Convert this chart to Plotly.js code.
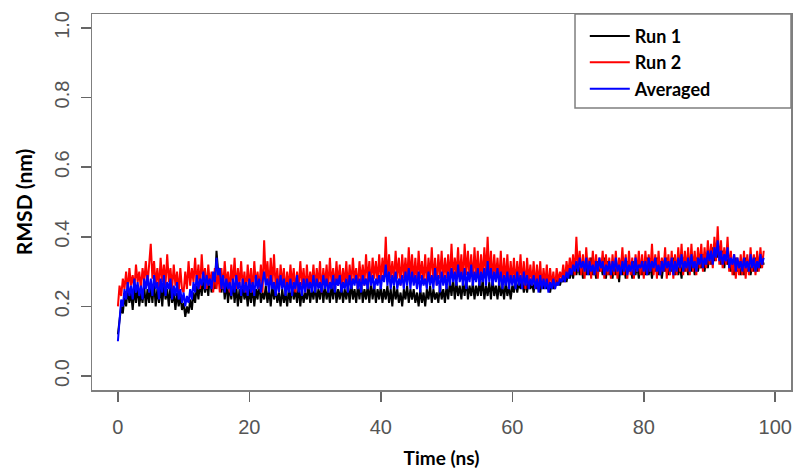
<!DOCTYPE html>
<html>
<head>
<meta charset="utf-8">
<script src="https://cdn.plot.ly/plotly-3.0.1.min.js"></script>
<style>html,body{margin:0;padding:0;background:#fff;}#chart{width:795px;height:470px;}</style>
</head>
<body>
<div id="chart"></div>
<script>
// Sampling step of the trajectories (ns)
const timeStep = 0.25;

// Run 1 (black) RMSD, nm
const run1 = [
0.12,0.16,0.20,0.18,0.23,0.20,0.25,0.21,0.24,0.19,0.25,0.21,0.26,0.20,0.24,0.21,0.26,0.20,0.25,0.21,
0.26,0.21,0.27,0.20,0.25,0.21,0.26,0.20,0.27,0.22,0.25,0.20,0.26,0.21,0.24,0.19,0.24,0.20,0.23,0.19,
0.21,0.17,0.20,0.18,0.22,0.19,0.24,0.21,0.26,0.22,0.27,0.23,0.28,0.24,0.27,0.23,0.29,0.24,0.28,0.25,
0.36,0.30,0.31,0.24,0.28,0.22,0.27,0.21,0.26,0.22,0.27,0.21,0.26,0.20,0.25,0.21,0.26,0.22,0.25,0.20,
0.25,0.21,0.26,0.20,0.25,0.22,0.27,0.21,0.24,0.22,0.26,0.21,0.25,0.20,0.26,0.22,0.25,0.21,0.24,0.20,
0.25,0.21,0.24,0.20,0.25,0.21,0.26,0.22,0.25,0.21,0.26,0.20,0.25,0.21,0.24,0.22,0.26,0.21,0.25,0.22,
0.26,0.21,0.25,0.22,0.27,0.21,0.26,0.22,0.25,0.21,0.26,0.22,0.27,0.21,0.25,0.22,0.26,0.21,0.25,0.22,
0.26,0.21,0.27,0.22,0.25,0.21,0.26,0.22,0.27,0.21,0.25,0.22,0.26,0.21,0.27,0.22,0.26,0.21,0.25,0.22,
0.26,0.21,0.25,0.22,0.26,0.21,0.25,0.20,0.26,0.22,0.25,0.21,0.24,0.20,0.25,0.22,0.26,0.21,0.25,0.22,
0.25,0.21,0.24,0.20,0.25,0.21,0.24,0.20,0.25,0.22,0.26,0.21,0.25,0.22,0.24,0.21,0.26,0.22,0.25,0.21,
0.26,0.22,0.27,0.23,0.28,0.22,0.27,0.23,0.26,0.22,0.27,0.23,0.28,0.22,0.26,0.23,0.27,0.22,0.26,0.23,
0.27,0.23,0.28,0.22,0.26,0.23,0.27,0.22,0.28,0.23,0.26,0.22,0.27,0.23,0.26,0.22,0.27,0.23,0.26,0.22,
0.26,0.24,0.28,0.24,0.27,0.25,0.28,0.24,0.27,0.24,0.28,0.25,0.27,0.24,0.28,0.25,0.27,0.24,0.28,0.25,
0.27,0.25,0.28,0.24,0.27,0.25,0.28,0.26,0.29,0.26,0.28,0.27,0.29,0.27,0.30,0.28,0.31,0.28,0.32,0.29,
0.32,0.29,0.33,0.28,0.32,0.29,0.33,0.29,0.34,0.29,0.32,0.28,0.33,0.30,0.32,0.29,0.34,0.28,0.33,0.29,
0.32,0.28,0.33,0.29,0.32,0.27,0.33,0.29,0.32,0.28,0.33,0.30,0.32,0.28,0.33,0.29,0.32,0.28,0.33,0.29,
0.33,0.29,0.34,0.29,0.32,0.28,0.33,0.30,0.34,0.29,0.33,0.28,0.32,0.30,0.34,0.29,0.33,0.30,0.34,0.29,
0.33,0.29,0.32,0.28,0.34,0.30,0.33,0.29,0.34,0.30,0.33,0.29,0.34,0.30,0.33,0.31,0.35,0.30,0.34,0.31,
0.36,0.32,0.37,0.33,0.38,0.34,0.37,0.32,0.36,0.31,0.35,0.32,0.34,0.30,0.33,0.29,0.34,0.30,0.33,0.29,
0.33,0.29,0.34,0.30,0.33,0.29,0.32,0.30,0.34,0.30,0.33,0.31,0.34,0.32
];

// Run 2 (red) RMSD, nm
const run2 = [
0.20,0.26,0.23,0.28,0.25,0.30,0.24,0.31,0.26,0.29,0.25,0.32,0.27,0.30,0.25,0.31,0.27,0.33,0.26,0.31,
0.38,0.28,0.33,0.26,0.31,0.25,0.34,0.27,0.32,0.26,0.35,0.27,0.31,0.25,0.32,0.26,0.30,0.24,0.31,0.25,
0.24,0.30,0.25,0.33,0.26,0.31,0.27,0.34,0.26,0.32,0.25,0.35,0.27,0.31,0.25,0.32,0.26,0.30,0.24,0.31,
0.25,0.30,0.24,0.31,0.25,0.33,0.26,0.30,0.24,0.32,0.26,0.34,0.25,0.31,0.26,0.33,0.25,0.30,0.24,0.32,
0.25,0.31,0.24,0.33,0.26,0.30,0.25,0.32,0.24,0.39,0.27,0.33,0.25,0.34,0.26,0.35,0.25,0.31,0.24,0.32,
0.26,0.31,0.24,0.30,0.25,0.32,0.26,0.31,0.24,0.30,0.25,0.33,0.26,0.31,0.24,0.32,0.25,0.30,0.26,0.32,
0.25,0.31,0.26,0.33,0.24,0.31,0.26,0.32,0.25,0.34,0.26,0.31,0.25,0.33,0.26,0.32,0.25,0.31,0.26,0.33,
0.25,0.32,0.26,0.34,0.27,0.31,0.25,0.33,0.27,0.32,0.26,0.35,0.27,0.33,0.26,0.34,0.28,0.33,0.27,0.35,
0.27,0.34,0.28,0.40,0.27,0.35,0.28,0.33,0.27,0.36,0.28,0.34,0.26,0.35,0.28,0.34,0.27,0.37,0.28,0.35,
0.27,0.34,0.26,0.36,0.28,0.33,0.27,0.35,0.26,0.34,0.28,0.37,0.27,0.34,0.26,0.35,0.28,0.36,0.27,0.34,
0.28,0.35,0.27,0.38,0.28,0.34,0.29,0.37,0.28,0.35,0.27,0.38,0.29,0.36,0.28,0.35,0.27,0.37,0.28,0.36,
0.27,0.35,0.28,0.37,0.29,0.40,0.28,0.36,0.27,0.35,0.28,0.34,0.27,0.36,0.26,0.34,0.27,0.35,0.26,0.33,
0.27,0.34,0.26,0.33,0.27,0.35,0.26,0.33,0.25,0.34,0.27,0.32,0.26,0.33,0.25,0.32,0.26,0.33,0.25,0.31,
0.26,0.32,0.25,0.31,0.26,0.30,0.25,0.31,0.27,0.30,0.28,0.32,0.27,0.33,0.29,0.34,0.30,0.35,0.29,0.40,
0.30,0.36,0.29,0.35,0.28,0.37,0.30,0.34,0.28,0.36,0.29,0.35,0.28,0.34,0.30,0.36,0.28,0.35,0.29,0.34,
0.28,0.35,0.29,0.36,0.28,0.34,0.30,0.37,0.29,0.35,0.28,0.36,0.29,0.34,0.28,0.35,0.30,0.36,0.29,0.35,
0.28,0.36,0.29,0.35,0.30,0.38,0.29,0.35,0.28,0.36,0.29,0.34,0.30,0.37,0.28,0.35,0.29,0.36,0.28,0.35,
0.29,0.37,0.30,0.38,0.29,0.36,0.30,0.37,0.29,0.38,0.30,0.36,0.29,0.37,0.31,0.38,0.30,0.37,0.31,0.39,
0.32,0.38,0.31,0.40,0.33,0.43,0.32,0.39,0.31,0.37,0.32,0.40,0.30,0.36,0.29,0.35,0.28,0.34,0.29,0.35,
0.29,0.36,0.28,0.35,0.29,0.37,0.30,0.35,0.29,0.36,0.30,0.37,0.31,0.36
];

// Averaged (blue) RMSD, nm
const averaged = [
0.10,0.17,0.22,0.20,0.25,0.22,0.27,0.23,0.26,0.22,0.28,0.24,0.27,0.23,0.26,0.22,0.28,0.25,0.29,0.24,
0.28,0.23,0.29,0.25,0.27,0.22,0.28,0.24,0.29,0.23,0.27,0.25,0.28,0.22,0.26,0.23,0.27,0.22,0.25,0.21,
0.24,0.20,0.23,0.21,0.25,0.22,0.27,0.24,0.29,0.25,0.28,0.26,0.30,0.25,0.29,0.26,0.28,0.25,0.30,0.27,
0.34,0.29,0.31,0.25,0.29,0.24,0.28,0.25,0.27,0.23,0.28,0.24,0.29,0.25,0.27,0.23,0.28,0.24,0.27,0.23,
0.28,0.24,0.27,0.23,0.29,0.25,0.28,0.24,0.27,0.30,0.26,0.28,0.24,0.29,0.25,0.27,0.23,0.28,0.24,0.29,
0.25,0.28,0.23,0.27,0.24,0.28,0.23,0.27,0.25,0.29,0.24,0.27,0.23,0.28,0.24,0.28,0.25,0.27,0.24,0.29,
0.24,0.28,0.25,0.27,0.24,0.29,0.25,0.28,0.24,0.27,0.25,0.29,0.24,0.28,0.26,0.29,0.24,0.27,0.25,0.28,
0.24,0.29,0.25,0.28,0.26,0.29,0.25,0.28,0.24,0.29,0.26,0.28,0.25,0.30,0.26,0.29,0.25,0.28,0.26,0.29,
0.25,0.29,0.27,0.32,0.26,0.30,0.25,0.29,0.26,0.30,0.25,0.28,0.26,0.29,0.25,0.30,0.26,0.31,0.25,0.30,
0.26,0.29,0.25,0.30,0.24,0.29,0.26,0.28,0.25,0.30,0.26,0.29,0.25,0.31,0.26,0.29,0.24,0.30,0.26,0.29,
0.25,0.30,0.26,0.31,0.27,0.30,0.26,0.32,0.27,0.30,0.26,0.31,0.25,0.30,0.27,0.32,0.26,0.30,0.27,0.31,
0.26,0.30,0.27,0.31,0.26,0.33,0.27,0.31,0.26,0.30,0.27,0.31,0.26,0.30,0.25,0.29,0.26,0.30,0.25,0.29,
0.26,0.29,0.25,0.30,0.26,0.29,0.25,0.30,0.26,0.29,0.25,0.28,0.26,0.29,0.25,0.28,0.24,0.29,0.25,0.28,
0.25,0.28,0.24,0.27,0.25,0.28,0.25,0.27,0.26,0.28,0.27,0.29,0.27,0.30,0.28,0.31,0.29,0.32,0.30,0.33,
0.30,0.34,0.31,0.33,0.30,0.34,0.29,0.33,0.30,0.32,0.29,0.33,0.30,0.34,0.31,0.33,0.29,0.32,0.30,0.33,
0.29,0.33,0.30,0.34,0.30,0.32,0.29,0.33,0.30,0.34,0.29,0.32,0.30,0.33,0.29,0.34,0.30,0.32,0.31,0.33,
0.30,0.33,0.29,0.34,0.30,0.33,0.31,0.34,0.30,0.32,0.29,0.33,0.30,0.34,0.31,0.33,0.30,0.34,0.29,0.33,
0.30,0.34,0.31,0.35,0.30,0.33,0.31,0.34,0.30,0.35,0.31,0.33,0.30,0.34,0.32,0.35,0.31,0.34,0.32,0.36,
0.33,0.36,0.32,0.37,0.34,0.39,0.33,0.36,0.32,0.35,0.33,0.37,0.31,0.34,0.32,0.35,0.30,0.34,0.31,0.33,
0.30,0.34,0.31,0.33,0.30,0.35,0.31,0.34,0.30,0.33,0.31,0.35,0.32,0.34
];

const seriesNames = ["Run 1", "Run 2", "Averaged"];
const seriesColors = ["#000000", "#ff0000", "#0000ff"];
const xTickVals = [0, 20, 40, 60, 80, 100];
const yTickVals = [0.0, 0.2, 0.4, 0.6, 0.8, 1.0];
const yTickText = ["0.0", "0.2", "0.4", "0.6", "0.8", "1.0"];

const time = run1.map((_, i) => i * timeStep);
const allSeries = [run1, run2, averaged];

const traces = allSeries.map((vals, k) => ({
  type: "scatter",
  mode: "lines",
  x: time,
  y: vals,
  name: seriesNames[k],
  legendgroup: "g" + k,
  line: {color: seriesColors[k], width: 2},
  hoverinfo: "skip"
}));

const tickFont = {family: "Liberation Sans Narrow, Liberation Sans, sans-serif", size: 20, color: "#555555"};
const xTitleFont = {family: "Lato, Open Sans, sans-serif", size: 19, color: "#000000", weight: "bold"};
const yTitleFont = {family: "Lato, Open Sans, sans-serif", size: 21, color: "#000000", weight: "bold"};

const layout = {
  width: 795, height: 470,
  margin: {l: 92, r: 4, t: 14, b: 80},
  paper_bgcolor: "#ffffff",
  plot_bgcolor: "#ffffff",
  showlegend: true,
  legend: {
    x: 0.705, y: 0.99, xanchor: "left", yanchor: "top",
    bgcolor: "rgba(0,0,0,0)",
    borderwidth: 0,
    traceorder: "grouped",
    tracegroupgap: 0,
    itemwidth: 40,
    font: {family: "Lato, Open Sans, sans-serif", size: 18, color: "#000000", weight: "bold"}
  },
  shapes: [{
    type: "rect", xref: "paper", yref: "paper",
    x0: 0.691, x1: 1, y0: 0.75, y1: 1,
    line: {color: "#7f7f7f", width: 1.5},
    fillcolor: "#ffffff", layer: "below"
  }],
  xaxis: {
    range: [-3.94, 102.4],
    tickvals: xTickVals,
    ticks: "outside", ticklen: 10, tickwidth: 1.5, tickcolor: "#666666",
    showline: true, mirror: true, linecolor: "#7f7f7f", linewidth: 1.5,
    showgrid: false, zeroline: false,
    tickfont: tickFont,
    ticklabelstandoff: 8,
    title: {text: "Time (ns)", font: xTitleFont, standoff: 15},
    automargin: false
  },
  yaxis: {
    range: [-0.04, 1.04],
    tickvals: yTickVals,
    ticktext: yTickText,
    tickangle: -90,
    ticks: "outside", ticklen: 10, tickwidth: 1.5, tickcolor: "#666666",
    showline: true, mirror: true, linecolor: "#7f7f7f", linewidth: 1.5,
    showgrid: false, zeroline: false,
    tickfont: tickFont,
    ticklabelstandoff: 4,
    title: {text: "RMSD (nm)", font: yTitleFont, standoff: 12},
    automargin: false
  }
};

Plotly.newPlot("chart", traces, layout, {staticPlot: true, displayModeBar: false});
</script>
</body>
</html>
